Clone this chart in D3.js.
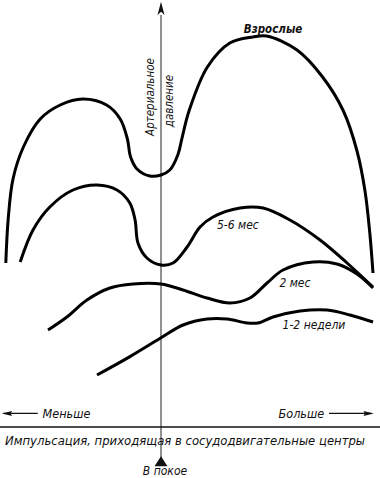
<!DOCTYPE html>
<meta charset="utf-8">
<script src="https://d3js.org/d3.v7.min.js"></script>
<style>
body { margin: 0; background: #fff; }
text {
    font-family: "Liberation Sans Narrow", "DejaVu Sans Condensed", "Liberation Sans", sans-serif;
    font-style: italic;
    fill: #111;
}
</style>
<div id="chart"></div>
<script>
// impulse to vasomotor centres (0 = at rest) vs arterial pressure, by age
const ageNames = ["Взрослые", "5-6 мес", "2 мес", "1-2 недели"];

const adultsX = [-9.7, -9.55, -9.25, -8.6, -7.55, -6.3, -4.9, -3.4, -2.55, -2.1, -1.9, -1.5, -0.7, 0, 0.55, 1.05, 1.3, 1.75, 2.9, 4.3, 5.75, 6.6, 8.5, 10.1, 11.4, 12.25, 12.75, 13.05, 13.25];
const adultsY = [41, 52, 62, 70, 77, 80.5, 82, 80.5, 77, 72, 67.5, 64.5, 62.75, 63, 64.25, 68, 72, 79, 90, 96, 97.5, 97.75, 94.25, 87.5, 79, 69, 59, 48.5, 38.5];

const m56X = [-8.8, -8, -6.95, -5.5, -4, -2.75, -1.95, -1.62, -1.44, -0.88, 0, 0.75, 1.63, 2.44, 3.25, 4.94, 6.38, 8.06, 9.94, 11.63, 13.25];
const m56Y = [41.25, 49.25, 55, 59.25, 60.5, 59.25, 56, 51.75, 46, 42.25, 40.5, 41, 45, 50, 52.5, 54.75, 54.75, 51.75, 46.75, 41, 35];

const m2X = [-7.06, -5.88, -4.63, -3.19, -1.75, 0, 1.38, 2.88, 4.31, 5.56, 6.63, 7.63, 9.5, 11, 12.25, 13.25];
const m2Y = [24.25, 27.5, 31.75, 34.75, 35.75, 35.75, 34.25, 32.25, 31, 32.25, 36, 39.25, 41.25, 40.75, 38.25, 34.75];

const w12X = [-4, -1.94, 0, 1.38, 2.88, 4.13, 5.38, 6.06, 7, 8.69, 10.38, 11.81, 13.25];
const w12Y = [13, 17.6, 22.3, 25.5, 27, 27, 26, 26, 27.5, 29, 29.25, 28, 26.25];

const xTitle = "Импульсация, приходящая  в  сосудодвигательные  центры";
const yTitle = ["Артериальное", "давление"];
const lessLabel = "Меньше", moreLabel = "Больше", restLabel = "В покое";

const width = 380, height = 478;

const svg = d3.select("#chart")
  .append("svg")
    .attr("width", width)
    .attr("height", height);

// impulse units: 0 = rest; pressure in relative units
const x = d3.scaleLinear().domain([-10, 10]).range([1, 321]);
const y = d3.scaleLinear().domain([0, 100]).range([427, 27]);

const series = [
  {name: ageNames[0], xs: adultsX, ys: adultsY},
  {name: ageNames[1], xs: m56X, ys: m56Y},
  {name: ageNames[2], xs: m2X, ys: m2Y},
  {name: ageNames[3], xs: w12X, ys: w12Y},
].map(s => ({name: s.name, values: s.xs.map((v, i) => ({x: v, y: s.ys[i]}))}));

// axes
svg.append("line")
  .attr("x1", x(0)).attr("x2", x(0))
  .attr("y1", y(103)).attr("y2", y(-8))
  .attr("stroke", "#222").attr("stroke-width", 1);

svg.append("path")
  .attr("d", `M${x(0)},${y(106.3)} L${x(0) - 3.5},${y(103)} L${x(0)},${y(103.8)} L${x(0) + 3.5},${y(103)} Z`)
  .attr("fill", "#111");

svg.append("line")
  .attr("x1", x(-10.1)).attr("x2", x(13.7))
  .attr("y1", y(0)).attr("y2", y(0))
  .attr("stroke", "#111").attr("stroke-width", 1.6);

// rest marker
svg.append("path")
  .attr("d", `M${x(0)},${y(-7.3)} L${x(0) - 6.5},${y(-9.8)} L${x(0) + 6.5},${y(-9.8)} Z`)
  .attr("fill", "#111");

// curves
const line = d3.line()
  .x(d => x(d.x))
  .y(d => y(d.y))
  .curve(d3.curveCatmullRom.alpha(0.5));

svg.selectAll("path.curve")
  .data(series)
  .join("path")
    .attr("class", "curve")
    .attr("d", d => line(d.values))
    .attr("fill", "none")
    .attr("stroke", "#000")
    .attr("stroke-width", 3)
    .attr("stroke-linecap", "butt");

// curve labels
const labelPos = [
  {x: 7.0, y: 98.6, anchor: "middle", size: 11.5, weight: "bold"},
  {x: 3.5, y: 49.6, anchor: "start", size: 12, weight: "normal"},
  {x: 7.4, y: 35.1, anchor: "start", size: 12, weight: "normal"},
  {x: 7.6, y: 24.6, anchor: "start", size: 12, weight: "normal"},
];
svg.selectAll("text.age")
  .data(series)
  .join("text")
    .attr("class", "age")
    .attr("x", (d, i) => x(labelPos[i].x))
    .attr("y", (d, i) => y(labelPos[i].y))
    .attr("text-anchor", (d, i) => labelPos[i].anchor)
    .style("font-size", (d, i) => labelPos[i].size + "px")
    .style("font-weight", (d, i) => labelPos[i].weight)
    .text(d => d.name);

// y title, rotated on both sides of the axis
svg.append("text")
  .attr("transform", `translate(${x(-0.7) + 4},${y(82.5)}) rotate(-90)`)
  .attr("text-anchor", "middle")
  .style("font-size", "11.5px")
  .text(yTitle[0]);
svg.append("text")
  .attr("transform", `translate(${x(0.5) + 4},${y(81.5)}) rotate(-90)`)
  .attr("text-anchor", "middle")
  .style("font-size", "11.5px")
  .text(yTitle[1]);

// less / more arrows
const arrowY = y(3.4);
svg.append("line")
  .attr("x1", x(-9.85)).attr("x2", x(-7.7))
  .attr("y1", arrowY).attr("y2", arrowY)
  .attr("stroke", "#111").attr("stroke-width", 1.3);
svg.append("path")
  .attr("d", `M${x(-9.95)},${arrowY} L${x(-9.3)},${arrowY - 2.5} L${x(-9.4)},${arrowY} L${x(-9.3)},${arrowY + 2.5} Z`)
  .attr("fill", "#111");
svg.append("text")
  .attr("x", x(-7.4)).attr("y", arrowY + 4.5)
  .style("font-size", "12.5px")
  .text(lessLabel);

svg.append("line")
  .attr("x1", x(10.5)).attr("x2", x(13.15))
  .attr("y1", arrowY).attr("y2", arrowY)
  .attr("stroke", "#111").attr("stroke-width", 1.3);
svg.append("path")
  .attr("d", `M${x(13.3)},${arrowY} L${x(12.65)},${arrowY - 2.5} L${x(12.75)},${arrowY} L${x(12.65)},${arrowY + 2.5} Z`)
  .attr("fill", "#111");
svg.append("text")
  .attr("x", x(10.2)).attr("y", arrowY + 4.5)
  .attr("text-anchor", "end")
  .style("font-size", "12.5px")
  .text(moreLabel);

// x title
svg.append("text")
  .attr("x", x(-9.75)).attr("y", y(-4.4))
  .attr("textLength", 360)
  .attr("lengthAdjust", "spacingAndGlyphs")
  .style("font-size", "13px")
  .text(xTitle);

svg.append("text")
  .attr("x", x(0.25)).attr("y", y(-11.9))
  .attr("text-anchor", "middle")
  .style("font-size", "12px")
  .text(restLabel);
</script>
